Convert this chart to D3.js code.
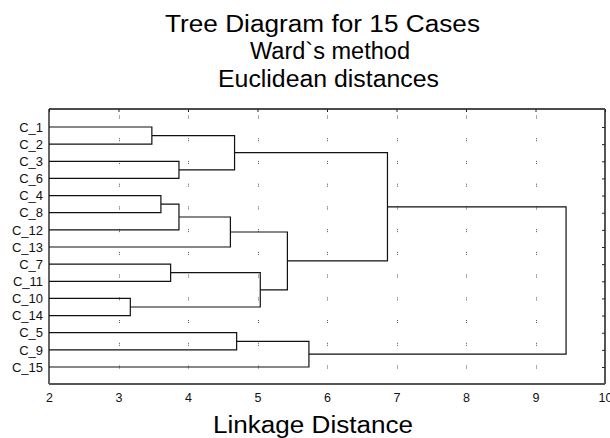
<!DOCTYPE html>
<html>
<head>
<meta charset="utf-8">
<script src="https://cdn.jsdelivr.net/npm/d3@7"></script>
<style>
  body { margin: 0; background: #fff; }
  svg { display: block; font-family: "Liberation Sans", Arial, sans-serif; }
</style>
</head>
<body>
<svg id="chart" width="610" height="438"></svg>
<script>
// leaves, top to bottom
const cases = ["C_1", "C_2", "C_3", "C_6", "C_4", "C_8", "C_12", "C_13",
               "C_7", "C_11", "C_10", "C_14", "C_5", "C_9", "C_15"];

// merges: leaf ids 0..14, merge k gets id 15 + k
const mergeLeft   = [10, 0, 4, 8, 2, 17, 20, 16, 12, 18, 21, 23, 22, 27];
const mergeRight  = [11, 1, 5, 9, 3, 6, 7, 19, 13, 15, 24, 14, 25, 26];
const mergeHeight = [3.17, 3.48, 3.61, 3.75, 3.87, 3.87, 4.61, 4.67, 4.70, 5.04, 5.43, 5.74, 6.87, 9.44];

const xTicks = [2, 3, 4, 5, 6, 7, 8, 9, 10];
const titleLines = ["Tree Diagram for 15 Cases", "Ward`s method", "Euclidean distances"];
const xTitle = "Linkage Distance";

const svg = d3.select("#chart");

const plotLeft = 49, plotRight = 605, plotTop = 109, plotBottom = 384;

const x = d3.scaleLinear().domain([2, 10]).range([plotLeft, plotRight]);
const y = d3.scalePoint().domain(cases).range([127, 367]);

// title, the picture is a bit stretched sideways so widths are fixed
const titlePos = [
    {x: 165, y: 31.5, len: 315},
    {x: 250, y: 59, len: 160},
    {x: 218, y: 86.5, len: 221}
];
svg.selectAll("text.title")
    .data(titleLines)
    .join("text")
    .attr("class", "title")
    .attr("x", (d, i) => titlePos[i].x)
    .attr("y", (d, i) => titlePos[i].y)
    .attr("textLength", (d, i) => titlePos[i].len)
    .attr("lengthAdjust", "spacingAndGlyphs")
    .attr("font-size", 23)
    .attr("fill", "#000")
    .text(d => d);

// dotted grid
svg.append("g")
    .selectAll("line")
    .data(xTicks.slice(1, -1))
    .join("line")
    .attr("x1", d => Math.round(x(d)) + 0.5)
    .attr("x2", d => Math.round(x(d)) + 0.5)
    .attr("y1", 115.5)
    .attr("y2", 370)
    .attr("stroke", "#555")
    .attr("stroke-width", 1)
    .attr("stroke-dasharray", "1,1,1,19.73");

// node positions
const nodeX = cases.map(() => x(2));
const nodeY = cases.map(c => y(c));
for (let k = 0; k < mergeHeight.length; ++k)
{
    nodeX.push(x(mergeHeight[k]));
    nodeY.push((nodeY[mergeLeft[k]] + nodeY[mergeRight[k]]) / 2);
}

svg.append("g")
    .selectAll("path")
    .data(mergeHeight)
    .join("path")
    .attr("fill", "none")
    .attr("stroke", "#111")
    .attr("stroke-width", 1.2)
    .attr("d", (h, k) => {
        const a = mergeLeft[k], b = mergeRight[k];
        const xm = x(h);
        return "M" + nodeX[a] + "," + nodeY[a] +
               "H" + xm + "V" + nodeY[b] + "H" + nodeX[b];
    });

// frame
svg.append("line")
    .attr("x1", plotLeft).attr("x2", plotRight).attr("y1", plotTop).attr("y2", plotTop)
    .attr("stroke", "#111").attr("stroke-width", 1.3);
svg.append("line")
    .attr("x1", plotLeft).attr("x2", plotLeft).attr("y1", plotTop).attr("y2", plotBottom)
    .attr("stroke", "#111").attr("stroke-width", 1.3);
svg.append("line")
    .attr("x1", plotLeft).attr("x2", plotRight).attr("y1", plotBottom).attr("y2", plotBottom)
    .attr("stroke", "#555").attr("stroke-width", 2);
svg.append("line")
    .attr("x1", plotRight).attr("x2", plotRight).attr("y1", plotTop).attr("y2", plotBottom)
    .attr("stroke", "#555").attr("stroke-width", 2);

// small inner ticks on top and right
const topAxis = svg.append("g")
    .attr("transform", "translate(0," + plotTop + ")")
    .call(d3.axisTop(x).tickValues(xTicks).tickSize(-3).tickFormat(""));
topAxis.select(".domain").remove();
topAxis.selectAll("line").attr("stroke", "#222");

const rightAxis = svg.append("g")
    .attr("transform", "translate(" + plotRight + ",0)")
    .call(d3.axisLeft(y).tickSize(3).tickFormat(""));
rightAxis.select(".domain").remove();
rightAxis.selectAll("line").attr("stroke", "#222");

// bottom tick labels ("10" runs off the edge in the original too)
const bottomAxis = svg.append("g")
    .attr("transform", "translate(0," + plotBottom + ")")
    .call(d3.axisBottom(x).tickValues(xTicks).tickSize(0).tickPadding(9).tickFormat(d3.format("d")));
bottomAxis.select(".domain").remove();
bottomAxis.selectAll("text")
    .attr("font-family", "Liberation Sans, Arial, sans-serif")
    .attr("font-size", 12.5)
    .attr("fill", "#111");

// leaf labels
const leftAxis = svg.append("g")
    .attr("transform", "translate(" + plotLeft + ",0)")
    .call(d3.axisLeft(y).tickSize(0).tickPadding(6));
leftAxis.select(".domain").remove();
leftAxis.selectAll("text")
    .attr("font-family", "Liberation Sans, Arial, sans-serif")
    .attr("font-size", 13)
    .attr("fill", "#111");

svg.append("text")
    .attr("x", 213)
    .attr("y", 433)
    .attr("textLength", 200)
    .attr("lengthAdjust", "spacingAndGlyphs")
    .attr("font-size", 23)
    .attr("fill", "#000")
    .text(xTitle);
</script>
</body>
</html>
